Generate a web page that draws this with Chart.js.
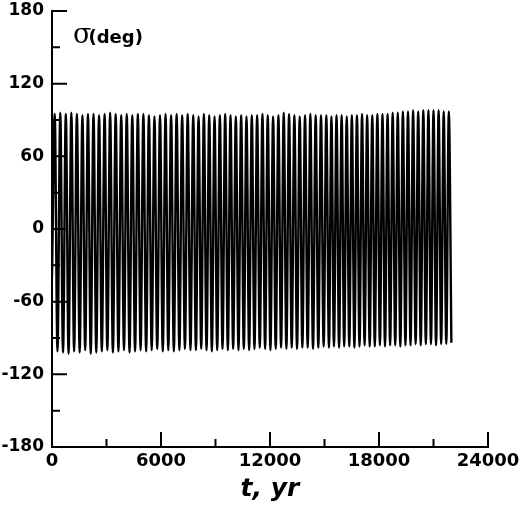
<!DOCTYPE html>
<html>
<head>
<meta charset="utf-8">
<title>sigma vs t</title>
<script src="https://cdn.jsdelivr.net/npm/chart.js@4.4.1/dist/chart.umd.min.js"></script>
<style>
    html, body { margin: 0; padding: 0; background: #fff; }
    #wrap { width: 520px; height: 514px; position: relative; }
</style>
</head>
<body>
<div id="wrap"><canvas id="sigmaChart"></canvas></div>
<script>
// starting point of the run
const startTime = 0;
const startSigma = -40;

// times (yr) of the maxima of sigma
const maxTimes = [
    150, 455, 760, 1065, 1370, 1675, 1980, 2285, 2590, 2895,
    3200, 3505, 3810, 4115, 4420, 4725, 5030, 5335, 5640, 5945,
    6250, 6555, 6860, 7165, 7470, 7775, 8068, 8361, 8654, 8947,
    9240, 9533, 9826, 10119, 10412, 10705, 10998, 11291, 11584, 11877,
    12170, 12463, 12756, 13049, 13342, 13635, 13928, 14221, 14514, 14807,
    15100, 15381, 15662, 15943, 16224, 16505, 16786, 17067, 17348, 17629,
    17910, 18191, 18472, 18753, 19034, 19315, 19596, 19877, 20158, 20439,
    20720, 21001, 21282, 21563, 21844
];
const maxSigma = [
    95, 96, 95, 96, 95, 94, 95, 95, 94, 95,
    96, 95, 94, 95, 94, 95, 95, 94, 93, 94,
    95, 94, 95, 94, 95, 94, 93, 95, 94, 93,
    94, 95, 94, 93, 94, 93, 94, 94, 95, 94,
    93, 94, 96, 95, 94, 93, 94, 95, 94, 94,
    94, 93, 94, 94, 93, 94, 94, 95, 94, 94,
    95, 95, 95, 96, 96, 97, 97, 98, 97, 98,
    98, 98, 98, 97, 97
];

// times (yr) of the minima of sigma
const minTimes = [
    302, 607, 912, 1217, 1522, 1827, 2132, 2437, 2742, 3047,
    3352, 3657, 3962, 4267, 4572, 4877, 5182, 5487, 5792, 6097,
    6402, 6707, 7012, 7317, 7622, 7922, 8214, 8507, 8800, 9093,
    9386, 9679, 9972, 10265, 10558, 10851, 11144, 11437, 11730, 12023,
    12316, 12609, 12902, 13195, 13488, 13781, 14074, 14367, 14660, 14953,
    15246, 15521, 15802, 16083, 16364, 16645, 16926, 17207, 17488, 17769,
    18050, 18331, 18612, 18893, 19174, 19455, 19736, 20017, 20298, 20579,
    20860, 21141, 21422, 21703, 21984
];
const minSigma = [
    -101, -102, -103, -101, -102, -100, -103, -102, -101, -100,
    -102, -101, -100, -102, -101, -100, -101, -100, -99, -101,
    -100, -101, -100, -99, -100, -100, -99, -100, -101, -100,
    -99, -100, -99, -100, -99, -100, -99, -98, -99, -100,
    -99, -98, -99, -98, -99, -98, -98, -99, -98, -97,
    -98, -97, -98, -97, -97, -98, -97, -96, -97, -97,
    -96, -97, -96, -96, -97, -96, -96, -95, -96, -95,
    -95, -96, -95, -95, -94
];

// axis ticks
const xTicks = [0, 6000, 12000, 18000, 24000];
const xMinorTicks = [3000, 9000, 15000, 21000];
const yTicks = [-180, -120, -60, 0, 60, 120, 180];
const yMinorTicks = [-150, -90, -30, 30, 90, 150];

function buildSeries() {
    const pts = [{ x: startTime, y: startSigma }];
    for (let i = 0; i < maxTimes.length; i++) {
        pts.push({ x: maxTimes[i], y: maxSigma[i] });
        pts.push({ x: minTimes[i], y: minSigma[i] });
    }
    return pts;
}

// inward tick marks, like the original plot
const insideTicks = {
    id: 'insideTicks',
    afterDraw(chart) {
        const ctx = chart.ctx;
        const xs = chart.scales.x;
        const ys = chart.scales.y;
        const left = chart.chartArea.left;
        const bottom = chart.chartArea.bottom;
        ctx.save();
        ctx.strokeStyle = '#000';
        ctx.lineWidth = 2;
        ctx.beginPath();
        yTicks.forEach(v => {
            const y = ys.getPixelForValue(v);
            ctx.moveTo(left, y);
            ctx.lineTo(left + 15, y);
        });
        yMinorTicks.forEach(v => {
            const y = ys.getPixelForValue(v);
            ctx.moveTo(left, y);
            ctx.lineTo(left + 8, y);
        });
        xTicks.forEach(v => {
            const x = xs.getPixelForValue(v);
            ctx.moveTo(x, bottom);
            ctx.lineTo(x, bottom - 15);
        });
        xMinorTicks.forEach(v => {
            const x = xs.getPixelForValue(v);
            ctx.moveTo(x, bottom);
            ctx.lineTo(x, bottom - 8);
        });
        ctx.stroke();

        // sigma(deg) label inside the plot
        const tx = left + 21;
        const ty = chart.chartArea.top + 27;
        ctx.fillStyle = '#000';
        ctx.textBaseline = 'middle';
        ctx.textAlign = 'left';
        ctx.font = '27px "DejaVu Serif"';
        ctx.fillText('σ', tx, ty - 2);
        const w = ctx.measureText('σ').width;
        ctx.font = 'bold 18px "DejaVu Sans"';
        ctx.fillText('(deg)', tx + w - 3, ty);
        ctx.restore();
    }
};

const ctx = document.getElementById('sigmaChart').getContext('2d');

const sigmaChart = new Chart(ctx, {
    type: 'line',
    data: {
        datasets: [{
            label: 'sigma',
            data: buildSeries(),
            borderColor: '#000',
            borderWidth: 2.4,
            pointRadius: 0,
            fill: false,
            cubicInterpolationMode: 'monotone'
        }]
    },
    options: {
        responsive: true,
        maintainAspectRatio: false,
        animation: false,
        layout: {
            padding: { top: 11, right: 32, left: 0, bottom: 0 }
        },
        plugins: {
            legend: { display: false },
            tooltip: { enabled: false }
        },
        scales: {
            x: {
                type: 'linear',
                min: 0,
                max: 24000,
                afterFit: scale => {
                    scale.height = 67;
                    scale.paddingLeft = 0;
                    scale.paddingRight = 0;
                },
                afterBuildTicks: scale => { scale.ticks = xTicks.map(v => ({ value: v })); },
                grid: { display: false, drawTicks: false },
                border: { display: true, color: '#000', width: 2 },
                ticks: {
                    padding: 4,
                    color: '#000',
                    maxRotation: 0,
                    font: { family: 'DejaVu Sans', size: 18, weight: 'bold' },
                    callback: v => String(v)
                },
                title: {
                    display: true,
                    text: 't, yr',
                    color: '#000',
                    padding: { top: 0, bottom: 10 },
                    font: { family: 'DejaVu Sans', size: 25, weight: 'bold', style: 'italic' }
                }
            },
            y: {
                type: 'linear',
                min: -180,
                max: 180,
                afterFit: scale => {
                    scale.width = 52;
                    scale.paddingTop = 0;
                    scale.paddingBottom = 0;
                },
                afterBuildTicks: scale => { scale.ticks = yTicks.map(v => ({ value: v })); },
                grid: { display: false, drawTicks: false },
                border: { display: true, color: '#000', width: 2 },
                ticks: {
                    padding: 8,
                    color: '#000',
                    font: { family: 'DejaVu Sans', size: 17, weight: 'bold' },
                    callback: v => String(v)
                }
            }
        }
    },
    plugins: [insideTicks]
});
</script>
</body>
</html>
